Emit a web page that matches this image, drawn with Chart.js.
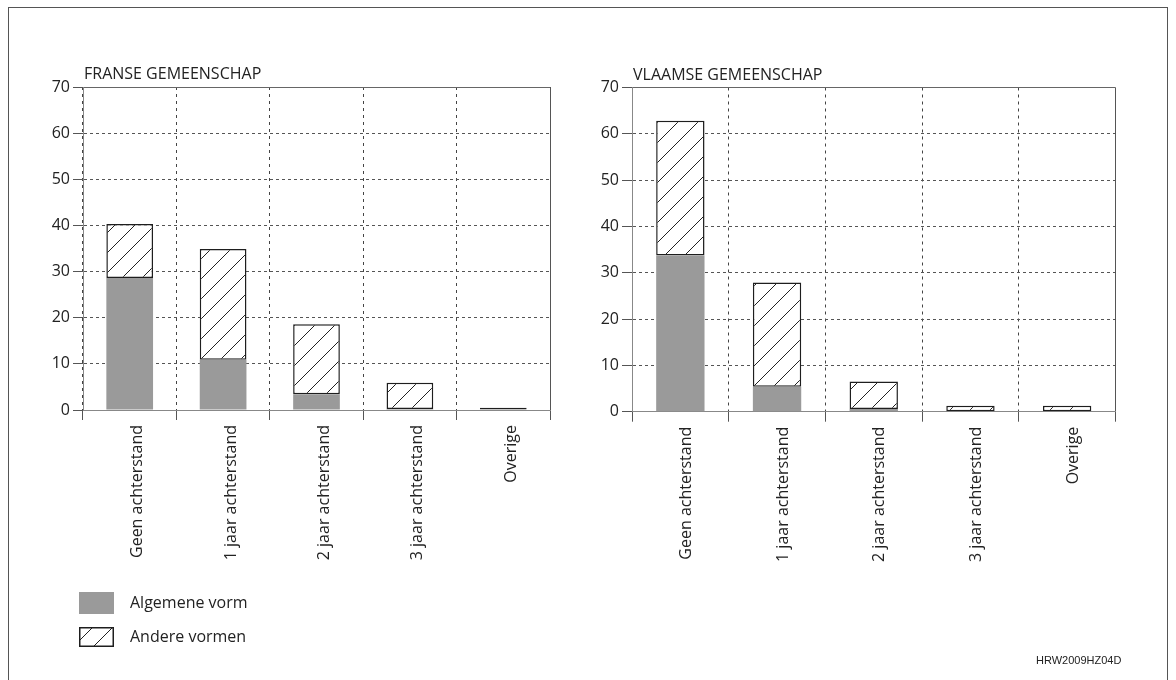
<!DOCTYPE html>
<html><head><meta charset="utf-8">
<script src="https://cdn.jsdelivr.net/npm/chart.js@4"></script>
<style>
html,body{margin:0;padding:0;background:#fff;}
body{width:1176px;height:680px;position:relative;overflow:hidden;font-family:'Open Sans',sans-serif;}
#frame{position:absolute;left:8px;top:7px;width:1158px;height:700px;border:1px solid #555;}
.box{position:absolute;top:0;height:680px;}
#leftBox{left:0;width:560px;}
#rightBox{left:560px;width:616px;}
#code{position:absolute;left:1036px;top:653px;font:11px 'Liberation Sans',Arial,sans-serif;color:#222;line-height:14px;}
</style></head><body>
<div id="frame"></div>
<div class="box" id="leftBox"><canvas id="c1"></canvas></div>
<div class="box" id="rightBox"><canvas id="c2"></canvas></div>
<div id="code">HRW2009HZ04D</div>
<script>
const categories = ['Geen achterstand','1 jaar achterstand','2 jaar achterstand','3 jaar achterstand','Overige'];
const seriesNames = ['Algemene vorm','Andere vormen'];
const yTicks = [0,10,20,30,40,50,60,70];
const franseAlgemene = [28.6,10.9,3.4,0.2,0.1];
const franseAndere   = [11.7,24.0,15.2,5.7,0.4];
const vlaamseAlgemene = [33.7,5.4,0.6,0,0];
const vlaamseAndere   = [29.1,22.5,5.9,1.3,1.3];
const titles = ['FRANSE GEMEENSCHAP','VLAAMSE GEMEENSCHAP'];

Chart.defaults.font.family = "'Open Sans', sans-serif";

function makeHatch(){
  const c = document.createElement('canvas'); c.width = 20; c.height = 20;
  const g = c.getContext('2d');
  g.fillStyle = '#fff'; g.fillRect(0,0,20,20);
  g.strokeStyle = '#222'; g.lineWidth = 1;
  g.beginPath();
  g.moveTo(0,20); g.lineTo(20,0);
  g.moveTo(-5,5); g.lineTo(5,-5);
  g.moveTo(15,25); g.lineTo(25,15);
  g.stroke();
  return g.createPattern(c,'repeat');
}
const hatch = makeHatch();

const titlePlugin = {
  id: 'cornerTitle',
  afterDraw(chart, args, opts){
    const a = chart.chartArea, ctx = chart.ctx;
    ctx.save();
    ctx.font = "16px 'Open Sans'";
    ctx.fillStyle = '#222';
    ctx.textBaseline = 'alphabetic';
    ctx.fillText(opts.text, a.left + 1, a.top - 8);
    ctx.restore();
  }
};

const legendPlugin = {
  id: 'sideLegend',
  afterDraw(chart, args, opts){
    if (!opts.show) return;
    const ctx = chart.ctx, ds = chart.data.datasets;
    ctx.save();
    ds.forEach((d, i) => {
      const y = opts.ys[i], h = opts.hs[i];
      ctx.fillStyle = d.backgroundColor;
      ctx.fillRect(opts.x, y, opts.w, h);
      if (d.borderWidth) {
        ctx.lineWidth = d.borderWidth; ctx.strokeStyle = d.borderColor;
        ctx.strokeRect(opts.x + 0.75, y + 0.75, opts.w - 1.5, h - 1.5);
      }
      ctx.fillStyle = '#222';
      ctx.font = "16px 'Open Sans'";
      ctx.textBaseline = 'middle';
      ctx.fillText(d.label, opts.tx, y + h / 2);
    });
    ctx.restore();
  }
};

function makeChart(id, alg, andr, title, L){
  return new Chart(document.getElementById(id), {
    type: 'bar',
    data: {
      labels: categories,
      datasets: [
        {label: seriesNames[0], data: alg, backgroundColor: '#9a9a9a', borderWidth: 0, barPercentage: 0.5, categoryPercentage: 1},
        {label: seriesNames[1], data: andr, backgroundColor: hatch, borderColor: '#1e1e1e', borderWidth: 1.5, borderSkipped: false, barPercentage: 0.5, categoryPercentage: 1}
      ]
    },
    options: {
      responsive: true, maintainAspectRatio: false, animation: false,
      layout: {padding: {left: 0, top: L.top, right: L.right, bottom: 0}},
      plugins: {
        legend: {display: false}, tooltip: {enabled: false},
        cornerTitle: {text: title},
        sideLegend: {show: L.legend, x: 79, tx: 130, w: 35, ys: [592, 627], hs: [22, 20]}
      },
      scales: {
        x: {
          stacked: true,
          grid: {offset: true, color: c => c.type === 'tick' ? '#444' : '#555', lineWidth: 1, tickLength: 10, tickColor: '#555'},
          border: {display: true, color: '#888', width: 1, dash: c => c.type === 'tick' ? [3,4] : []},
          ticks: {autoSkip: false, minRotation: 90, maxRotation: 90, padding: 5, color: '#222', font: {size: 16}, labelOffset: L.lo},
          afterFit: s => { s.height = L.xh; }
        },
        y: {
          stacked: true, min: 0, max: 70,
          afterBuildTicks: s => { s.ticks = yTicks.map(v => ({value: v})); },
          grid: {color: c => (c.tick && c.tick.value === 0) ? '#888' : (c.tick && c.tick.value === 70 ? '#666' : '#555'), lineWidth: 1, tickLength: 10, tickColor: '#555'},
          border: {display: true, color: '#888', width: 1, dash: c => (c.tick && (c.tick.value === 0 || c.tick.value === 70)) ? [] : [3,3]},
          ticks: {padding: 3, color: '#222', font: {size: 16}},
          afterFit: s => { s.width = L.yw; }
        }
      }
    },
    plugins: [titlePlugin, legendPlugin]
  });
}

makeChart('c1', franseAlgemene, franseAndere, titles[0], {top: 87, right: 10, yw: 83, xh: 270, legend: true, lo: 8});
makeChart('c2', vlaamseAlgemene, vlaamseAndere, titles[1], {top: 87.5, right: 60.5, yw: 72, xh: 268.3, legend: false, lo: 6});
</script>
</body></html>
